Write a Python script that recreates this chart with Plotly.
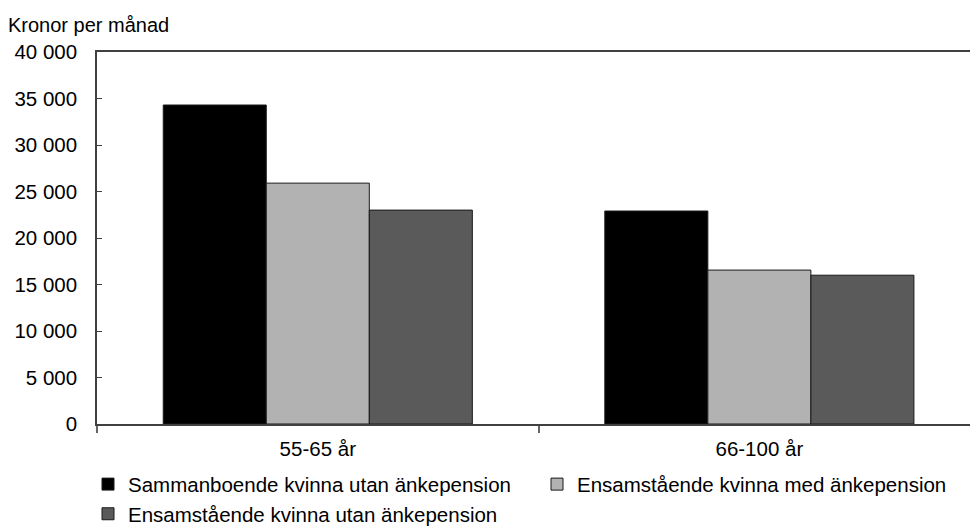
import plotly.graph_objects as go

categories = ["55-65 år", "66-100 år"]
series_names = [
    "Sammanboende kvinna utan änkepension",
    "Ensamstående kvinna med änkepension",
    "Ensamstående kvinna utan änkepension",
]
series_values = [
    [34300, 22900],
    [25900, 16550],
    [23000, 16000],
]
series_colors = ["#000000", "#b2b2b2", "#5a5a5a"]
series_legends = ["legend", "legend2", "legend"]
y_title = "Kronor per månad"

FONT = "Liberation Sans, Arial, sans-serif"
FS = 20.5
fig = go.Figure()
for i, (name, vals, col, lg) in enumerate(zip(series_names, series_values, series_colors, series_legends)):
    fig.add_trace(go.Bar(
        x=categories, y=vals, name=name, legend=lg, legendgroup=f"g{i}",
        marker=dict(color=col, line=dict(color="#1a1a1a", width=1)),
    ))

leg_common = dict(
    orientation="v", xref="container", yref="container",
    y=0.119, xanchor="left", yanchor="top",
    font=dict(family=FONT, size=FS, color="#000000"),
    traceorder="normal", itemclick=False, tracegroupgap=3,
    bgcolor="rgba(0,0,0,0)",
)
fig.update_layout(
    width=970, height=527,
    margin=dict(l=97, r=0, t=52, b=103, autoexpand=False),
    plot_bgcolor="white", paper_bgcolor="white",
    barmode="group", bargap=0.3, bargroupgap=0,
    separators=", ",
    font=dict(family=FONT, size=FS, color="#000000"),
    showlegend=True,
    legend=dict(x=88 / 970, **leg_common),
    legend2=dict(x=537 / 970, **leg_common),
    xaxis=dict(
        type="category", range=[-0.5, 1.477], automargin=False,
        showline=True, linecolor="#404040", linewidth=1.5, mirror=True,
        ticks="outside", ticklen=7, tickcolor="#666666", tickwidth=1.5,
        tickson="boundaries", showgrid=False, ticklabelstandoff=6,
        tickfont=dict(family=FONT, size=FS),
    ),
    yaxis=dict(
        range=[0, 40000], dtick=5000, tickformat=",d", automargin=False,
        showline=True, linecolor="#404040", linewidth=1.5,
        ticks="inside", ticklen=5, tickcolor="#404040",
        showgrid=False, zeroline=False, ticklabelstandoff=14,
        tickfont=dict(family=FONT, size=FS),
    ),
)
fig.add_annotation(
    text=y_title, xref="paper", yref="paper", x=0, y=1,
    xanchor="left", yanchor="bottom", xshift=-91, yshift=14,
    showarrow=False, font=dict(family=FONT, size=20),
)
fig.write_html(
    "out.html",
    config={"displayModeBar": False},
    post_script="document.body.style.margin='0';document.body.style.overflow='hidden';",
)
